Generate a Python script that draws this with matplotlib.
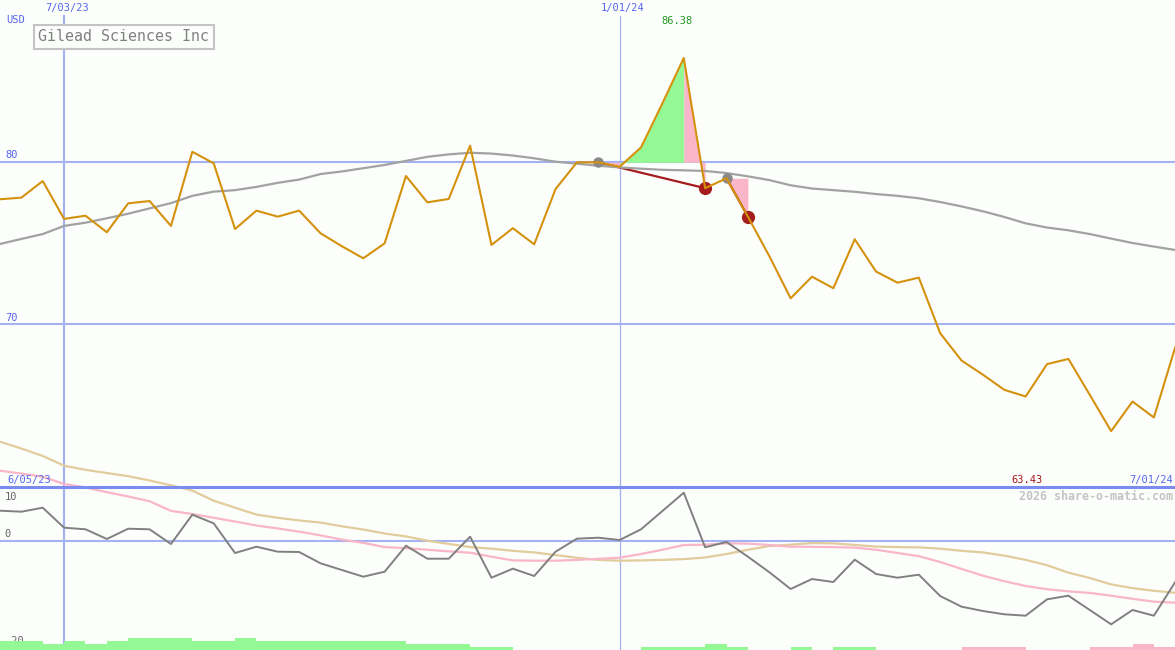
import numpy as np
import matplotlib.pyplot as plt

plt.rcParams['font.family'] = ['DejaVu Sans Mono']

# weekly closes, 12 Jun 2023 .. 1 Jul 2024
weeks = np.arange(56)
price = [77.69, 77.79, 78.81, 76.48, 76.68, 75.66, 77.44, 77.58, 76.05, 80.61,
         79.90, 75.86, 76.99, 76.62, 76.99, 75.60, 74.80, 74.06, 74.98, 79.12,
         77.50, 77.71, 80.98, 74.88, 75.91, 74.92, 78.32, 79.96, 79.96, 79.69,
         80.88, 83.59, 86.38, 78.37, 78.98, 76.62, 74.20, 71.60, 72.93, 72.22,
         75.23, 73.24, 72.56, 72.87, 69.45, 67.77, 66.90, 65.97, 65.56, 67.55,
         67.87, 65.66, 63.43, 65.25, 64.27, 68.59]
ma_long = [74.94, 75.25, 75.55, 76.05, 76.25, 76.52, 76.80, 77.13, 77.45, 77.90,
           78.16, 78.25, 78.45, 78.70, 78.90, 79.24, 79.40, 79.60, 79.80, 80.05,
           80.30, 80.45, 80.55, 80.50, 80.38, 80.21, 80.00, 79.88, 79.75, 79.65,
           79.57, 79.50, 79.47, 79.43, 79.30, 79.10, 78.87, 78.55, 78.35, 78.25,
           78.15, 78.01, 77.90, 77.75, 77.52, 77.25, 76.95, 76.60, 76.21, 75.95,
           75.78, 75.55, 75.27, 75.00, 74.78, 74.57]

# indicator panel
momentum = [5.63, 5.44, 6.19, 2.44, 2.14, 0.32, 2.25, 2.14, -0.62, 4.88,
            3.26, -2.31, -1.13, -2.06, -2.12, -4.24, -5.5, -6.75, -5.82, -0.94,
            -3.38, -3.38, 0.75, -6.94, -5.25, -6.62, -2.06, 0.38, 0.56, 0.13,
            2.14, 5.57, 9.0, -1.24, -0.24, -3.0, -5.9, -9.06, -7.19, -7.75,
            -3.56, -6.25, -6.94, -6.38, -10.38, -12.38, -13.19, -13.81, -14.07, -11.0,
            -10.32, -13.0, -15.69, -13.0, -14.07, -7.75]
mom_fast = [13.13, 12.6, 12.0, 10.64, 10.0, 9.1, 8.3, 7.4, 5.6, 5.0,
            4.3, 3.6, 2.85, 2.3, 1.7, 1.0, 0.2, -0.4, -1.2, -1.4,
            -1.7, -2.0, -2.25, -3.0, -3.7, -3.75, -3.75, -3.6, -3.4, -3.19,
            -2.5, -1.7, -0.81, -0.75, -0.5, -0.55, -0.8, -1.13, -1.15, -1.2,
            -1.3, -1.7, -2.3, -2.9, -4.0, -5.3, -6.56, -7.6, -8.5, -9.1,
            -9.5, -9.8, -10.32, -10.9, -11.44, -11.63]
mom_slow = [18.57, 17.3, 15.9, 14.07, 13.3, 12.7, 12.1, 11.3, 10.4, 9.4,
            7.5, 6.2, 4.9, 4.3, 3.8, 3.4, 2.7, 2.1, 1.35, 0.8,
            0.0, -0.6, -1.2, -1.5, -1.9, -2.2, -2.7, -3.2, -3.6, -3.75,
            -3.7, -3.6, -3.45, -3.15, -2.5, -1.7, -1.0, -0.75, -0.45, -0.5,
            -0.8, -1.1, -1.2, -1.25, -1.5, -1.9, -2.2, -2.8, -3.6, -4.6,
            -6.0, -7.0, -8.2, -8.9, -9.4, -9.76]
strength = [3, 3, 2, 3, 2, 3, 4, 4, 4, 3, 3, 4, 3, 3, 3, 3, 3, 3, 3, 2,
            2, 2, 1, 1, 0, 0, 0, 0, 0, 0, 1, 1, 1, 2, 1, 0, 0, 1, 0, 1,
            1, 0, 0, 0, 0, -1, -1, -1, 0, 0, 0, -1, -1, -2, -1]

date_weeks = [3, 29]
date_labels = ['7/03/23', '1/01/24']
start_label = '6/05/23'
end_label = '7/01/24'
buy_weeks = [28, 34]
sell_weeks = [33, 35]

BG = '#fcfefc'
GRID = '#a4b2f2'
SEP = '#7b8cee'
BLUE = '#5566ee'
ORANGE = '#d4920c'
GREEN = '#94f894'
PINK = '#f8b6c8'
DARKRED = '#a41c1c'

W, H = 1175, 650
fig = plt.figure(figsize=(W / 100, H / 100), dpi=100)
fig.patch.set_facecolor(BG)
xlim = (0, (W - 1) / 21.35)


def px(x, y):
    return x / W, 1 - y / H


# price panel (whole figure, 80 at y=161.7px, 70 at y=324.3px)
ax = fig.add_axes([0, 0, 1, 1])
ax.set_xlim(*xlim)
ax.set_ylim(80 - (H - 161.7) / 16.26, 80 + 161.7 / 16.26)
ax.axis('off')

for lvl in [80, 70]:
    ax.axhline(lvl, color=GRID, lw=1.5, zorder=1)
    ax.annotate(str(lvl), (0, lvl), xycoords=('axes fraction', 'data'),
                xytext=(4, 1), textcoords='offset points', color=BLUE,
                fontsize=7.5, va='bottom')
for w, lab, lw in zip(date_weeks, date_labels, [1.6, 0.9]):
    ax.axvline(w, ymax=1 - 16 / H, color=GRID, lw=lw, zorder=1)
    ax.text(w + 0.15, 1 - 8 / H, lab, transform=ax.get_xaxis_transform(),
            ha='center', va='center', color=BLUE, fontsize=7.5)

p = np.array(price)
for b, s in zip(buy_weeks, sell_weeks):
    level = p[b]
    peak = b + int(np.argmax(p[b:s + 1]))
    if peak > b + 1:
        ax.fill_between(weeks[b + 1:peak + 1], p[b + 1:peak + 1], level,
                        color=GREEN, lw=0, zorder=2)
    if peak > b:
        ax.fill_between(weeks[b:b + 2], p[b:b + 2], level, color=PINK, lw=0, zorder=2)
    ax.fill_between(weeks[peak:s + 1], p[peak:s + 1], level, color=PINK, lw=0, zorder=2)
    ax.plot([b, s], [p[b], p[s]], color=DARKRED, lw=1.6, zorder=3)
    ax.plot(b, p[b], 'o', color='#888888', ms=6.5, zorder=3.5)
    ax.plot(s, p[s], 'o', color=DARKRED, ms=8.5, zorder=3.5)

ax.plot(weeks, ma_long, color='#a2a2a2', lw=1.6, zorder=3)
ax.plot(weeks, price, color=ORANGE, lw=1.5, zorder=4)

hi = int(np.argmax(p))
ax.text(hi - 0.3, 1 - 21 / H, f'{p[hi]:.2f}', transform=ax.get_xaxis_transform(),
        ha='center', va='center', color='#229922', fontsize=7.5)

# indicator panel (0 at y=540.7px, 5.33px per unit)
ax2 = fig.add_axes([0, 0, 1, 1])
ax2.set_facecolor('none')
ax2.set_xlim(*xlim)
ax2.set_ylim(-(H - 540.7) / 5.33, 540.7 / 5.33)
ax2.axis('off')
ax2.axhline(0, color=GRID, lw=1.5, zorder=1)
ax2.axhline(10, color=SEP, lw=2.2, zorder=5)
ax2.plot(weeks, mom_slow, color='#e2cc9c', lw=1.6, zorder=2)
ax2.plot(weeks, mom_fast, color=PINK, lw=1.6, zorder=2)
ax2.plot(weeks, momentum, color='#808080', lw=1.4, zorder=3)
for val, dy, va in [(10, -3, 'top'), (0, 1, 'bottom'), (-20, 1, 'bottom')]:
    ax2.annotate(str(val), (0, val), xycoords=('axes fraction', 'data'),
                 xytext=(3.5, dy), textcoords='offset points', color='#666666',
                 fontsize=7.5, va=va)

# signal strength bars along the bottom edge
ax3 = fig.add_axes([0, 0, 1, 12 / H])
ax3.set_facecolor('none')
ax3.set_xlim(*xlim)
ax3.set_ylim(0, 4)
ax3.axis('off')
st = np.array(strength)
ax3.bar(np.arange(len(st)), np.abs(st), width=1, align='edge', lw=0,
        color=[GREEN if v > 0 else PINK for v in st])

# header / footer texts
fig.text(*px(6, 20), 'USD', color=BLUE, fontsize=7.5, va='center')
fig.text(*px(38, 36.5), 'Gilead Sciences Inc', color='#808080', fontsize=10.8,
         va='center', bbox=dict(boxstyle='square,pad=0.3', fc=BG, ec='#c4c4c4', lw=1.5))
fig.text(*px(7, 480), start_label, color=BLUE, fontsize=7.5, va='center')
fig.text(*px(1043, 480), f'{p.min():.2f}', color=DARKRED, fontsize=7.5,
         va='center', ha='right')
fig.text(*px(1173, 480), end_label, color=BLUE, fontsize=7.5, va='center', ha='right')
fig.text(*px(1173, 497), '2026 share-o-matic.com', color='#c4c4c4', fontsize=8.4,
         fontweight='bold', va='center', ha='right')

fig.savefig('out.png', dpi=100, facecolor=BG)
